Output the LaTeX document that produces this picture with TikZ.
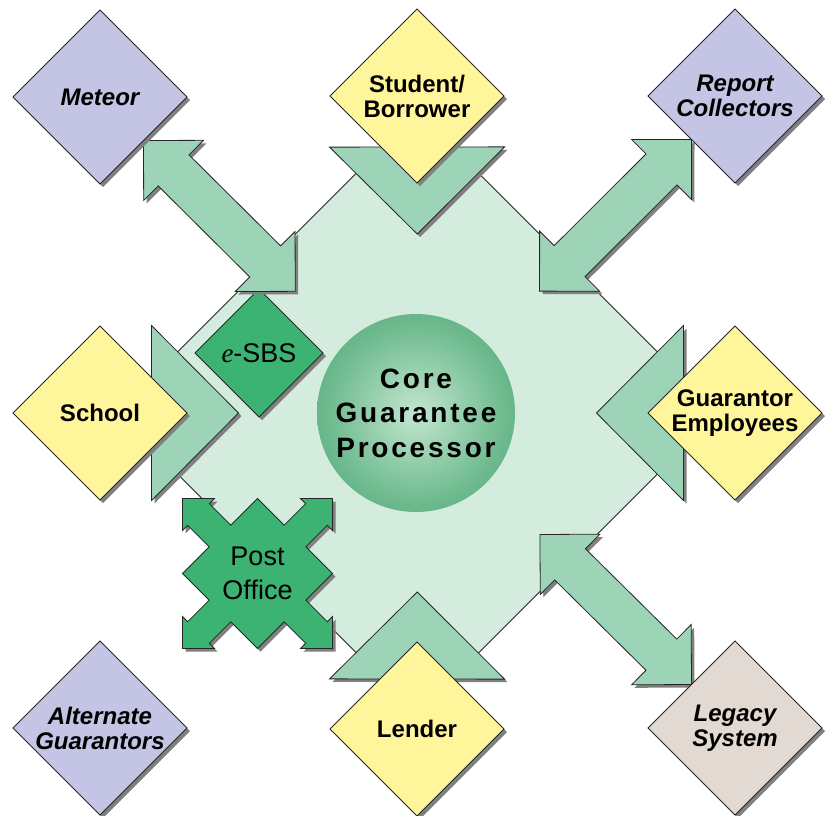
\documentclass[tikz,border=0pt]{standalone}
\usepackage{fontspec}
\setmainfont{Liberation Sans}
\newfontfamily\serifit{Liberation Serif}
\newfontfamily\corefam[LetterSpace=10]{Liberation Sans}
\usetikzlibrary{shapes.geometric,shadows,calc}
\pgfdeclarelayer{back}
\pgfdeclarelayer{mid}
\pgfsetlayers{back,mid,main}
\definecolor{ylw}{HTML}{FFF59B}
\definecolor{lav}{HTML}{C4C4E4}
\definecolor{beige}{HTML}{E1D9D2}
\definecolor{hubc}{HTML}{D4ECDE}
\definecolor{arrc}{HTML}{9DD4B8}
\definecolor{dkg}{HTML}{3CB273}
\definecolor{ballA}{HTML}{C3E6D0}
\definecolor{ballB}{HTML}{6FBB8F}
\definecolor{ballC}{HTML}{2E9260}
\pgfdeclareradialshading{ball}{\pgfpoint{0bp}{0bp}}{color(0bp)=(ballA); color(22bp)=(ballB); color(47bp)=(ballC); color(50bp)=(ballC)}
\newcommand\lblfont{\fontsize{24}{25}\selectfont\bfseries}
\newcommand\lblfontit{\fontsize{24}{25}\selectfont\bfseries\itshape}
\newcommand\blockarrow[2]{%
  \coordinate (Ah) at ($(#1)!42.4pt!(#2)$);
  \coordinate (Bh) at ($(#2)!42.4pt!(#1)$);
  \path[arrshape] (#1) -- ($(Ah)!42.4pt!90:(#2)$) -- ($(Ah)!21.9pt!90:(#2)$)
    -- ($(Bh)!21.9pt!-90:(#1)$) -- ($(Bh)!42.4pt!-90:(#1)$) -- (#2)
    -- ($(Bh)!42.4pt!90:(#1)$) -- ($(Bh)!21.9pt!90:(#1)$)
    -- ($(Ah)!21.9pt!-90:(#2)$) -- ($(Ah)!42.4pt!-90:(#2)$) -- cycle;}
\newcommand\chevronto[1]{%
  \coordinate (ct) at ($(hub)!179pt!(#1)$);
  \coordinate (cb) at ($(hub)!266pt!(#1)$);
  \path[arrshape] (ct) -- ($(cb)!87.5pt!90:(hub)$) -- ($(cb)!87.5pt!-90:(hub)$) -- cycle;}
\begin{document}
\begin{tikzpicture}[x=1pt,y=-1pt,
  shad/.style={drop shadow={shadow xshift=3pt,shadow yshift=-3pt,fill=black!50,opacity=1}},
  edge/.style={draw=black!85,line width=0.8pt,line join=miter},
  diam/.style={shape=diamond,minimum width=174pt,minimum height=174pt,inner sep=-30pt,
    outer sep=0pt,edge,shad,align=center,font=\lblfont},
  arrshape/.style={fill=arrc,edge,shad},
  dkshape/.style={fill=dkg,edge,shad}]
\useasboundingbox (0,0) rectangle (825,815);
% outer systems
\node[diam,fill=lav,font=\lblfontit] (meteor) at (100,97) {Meteor};
\node[diam,fill=ylw] (student) at (417,96) {Student/\\Borrower};
\node[diam,fill=lav,font=\lblfontit] (report) at (735,96) {Report\\Collectors};
\node[diam,fill=ylw] (school) at (100,413) {School};
\node[diam,fill=ylw] (guar) at (735,413) {Guarantor\\Employees};
\node[diam,fill=lav,font=\lblfontit] (alt) at (100,728) {Alternate\\Guarantors};
\node[diam,fill=ylw] (lender) at (417,729) {Lender};
\node[diam,fill=beige,font=\lblfontit] (legacy) at (735,728) {Legacy\\System};
\begin{pgfonlayer}{back}
\node[shape=diamond,minimum width=602pt,minimum height=602pt,inner sep=0pt,outer sep=0pt,
  fill=hubc,edge] (hub) at (417.5,413) {};
\node[circle,minimum size=198pt,inner sep=0pt,shading=ball,align=center,
  font=\fontsize{28}{34.5}\selectfont\corefam\bfseries] (core) at (416,413) {Core\\Guarantee\\Processor};
\node[shape=diamond,minimum width=128pt,minimum height=128pt,inner sep=-25pt,outer sep=0pt,
  dkshape,font=\fontsize{27}{30}\selectfont] (esbs) at (259,353) {{\serifit\itshape e}-SBS};
\path[dkshape,shift={(257.5,573.5)}] (0,-75) -- (26.7,-48.3) -- (48.2,-69.8) -- (43,-75) -- (75,-75)
  -- (75,-43) -- (69.8,-48.2) -- (48.3,-26.7) -- (75,0) -- (48.3,26.7) -- (69.8,48.2) -- (75,43)
  -- (75,75) -- (43,75) -- (48.2,69.8) -- (26.7,48.3) -- (0,75) -- (-26.7,48.3) -- (-48.2,69.8)
  -- (-43,75) -- (-75,75) -- (-75,43) -- (-69.8,48.2) -- (-48.3,26.7) -- (-75,0) -- (-48.3,-26.7)
  -- (-69.8,-48.2) -- (-75,-43) -- (-75,-75) -- (-43,-75) -- (-48.2,-69.8) -- (-26.7,-48.3) -- cycle;
\node[align=center,font=\fontsize{27}{34}\selectfont] (post) at (257.5,573.5) {Post\\Office};
\end{pgfonlayer}
\begin{pgfonlayer}{mid}
\coordinate (mA) at (meteor.south east);
\coordinate (mB) at ($(hub)!172.5pt!(meteor)$);
\blockarrow{mA}{mB}
\coordinate (rA) at (report.south west);
\coordinate (rB) at ($(hub)!172.5pt!(report)$);
\blockarrow{rA}{rB}
\coordinate (lA) at (legacy.north west);
\coordinate (lB) at ($(hub)!172.5pt!(legacy)$);
\blockarrow{lA}{lB}
\chevronto{student}
\chevronto{school}
\chevronto{guar}
\chevronto{lender}
\end{pgfonlayer}
\end{tikzpicture}
\end{document}
